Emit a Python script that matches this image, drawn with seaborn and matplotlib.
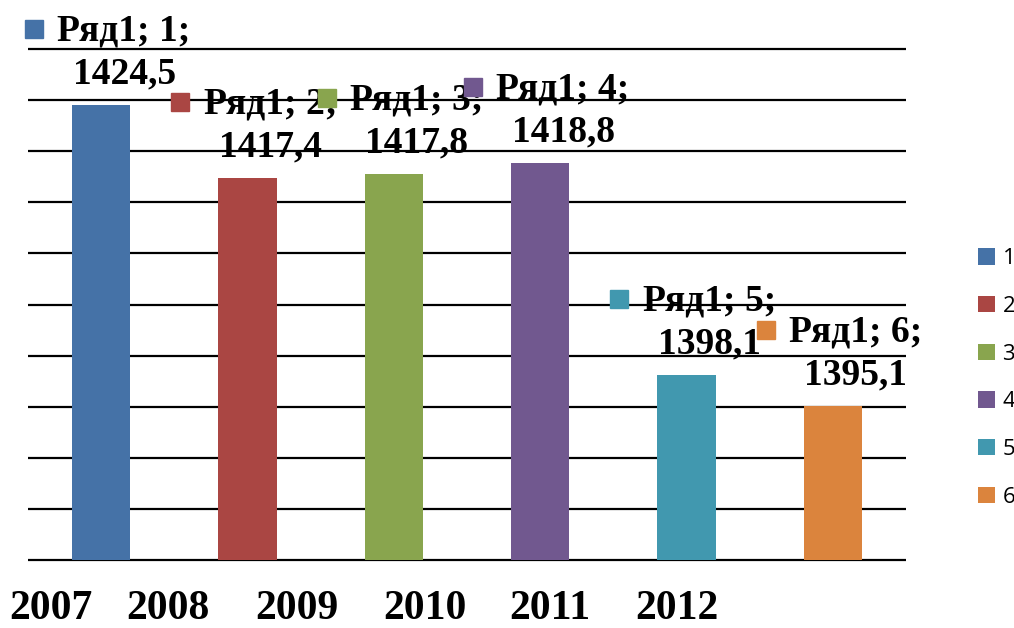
import matplotlib
matplotlib.use("Agg")
import matplotlib.pyplot as plt
from matplotlib.transforms import offset_copy
import seaborn as sns
import pandas as pd

# --- данные ---
categories = ["1", "2", "3", "4", "5", "6"]
values = [1424.5, 1417.4, 1417.8, 1418.8, 1398.1, 1395.1]
value_labels = ["1424,5", "1417,4", "1417,8", "1418,8", "1398,1", "1395,1"]
series_name = "Ряд1"
years = ["2007", "2008", "2009", "2010", "2011", "2012"]
year_x_px = [51, 168, 297, 425, 550, 677]
colors = ["#4572A7", "#AA4643", "#89A54E", "#71588F", "#4198AF", "#DB843D"]
y_ticks = [1380, 1385, 1390, 1395, 1400, 1405, 1410, 1415, 1420, 1425, 1430]

df = pd.DataFrame({"cat": categories, "val": values})

sns.set_theme(style="white")
plt.rcParams["text.color"] = "black"
W, H = 1014, 628
fig = plt.figure(figsize=(W / 100, H / 100), dpi=100)
ax = fig.add_axes([28 / W, 68 / H, 878 / W, 511 / H])

ax.hlines(y_ticks, -0.5, 5.5, colors="black", linewidth=1.6, zorder=0, clip_on=False)

sns.barplot(data=df, x="cat", y="val", hue="cat", palette=colors, width=0.4,
            saturation=1, legend=True, ax=ax, zorder=2, linewidth=0)

ax.set_xlim(-0.5, 5.5)
ax.set_ylim(1380, 1430)
ax.set_xlabel("")
ax.set_ylabel("")
ax.set_xticks([])
ax.set_yticks([])
for s in ax.spines.values():
    s.set_visible(False)

serif = dict(family="Liberation Serif", weight="bold", size=27, color="black")

for i, (v, lab) in enumerate(zip(values, value_labels)):
    ax.annotate(f"{series_name}; {i + 1};", xy=(i, v), xytext=(23, 74),
                textcoords="offset pixels", ha="center", va="center",
                annotation_clip=False, zorder=5, **serif)
    ax.annotate(lab, xy=(i, v), xytext=(23, 31),
                textcoords="offset pixels", ha="center", va="center",
                annotation_clip=False, zorder=5, **serif)
    trans = offset_copy(ax.transData, fig=fig, x=-67, y=76, units="dots")
    ax.plot(i, v, marker="s", ms=13.5, color=colors[i], mec=colors[i],
            transform=trans, clip_on=False, zorder=5)

for yr, xp in zip(years, year_x_px):
    fig.text(xp / W, 1 - 609 / H, yr, ha="center", va="center", color="black",
             family="Liberation Serif", weight="bold", size=30)

leg = ax.legend(loc="center left", bbox_to_anchor=(978 / W, 1 - 378 / H),
                bbox_transform=fig.transFigure, frameon=False, borderpad=0,
                borderaxespad=0, handlelength=0.75, handleheight=0.75,
                handletextpad=0.35, labelspacing=1.2,
                prop={"family": "Open Sans", "size": 16})
for t in leg.get_texts():
    t.set_color("black")

fig.savefig("out.png", dpi=100)
